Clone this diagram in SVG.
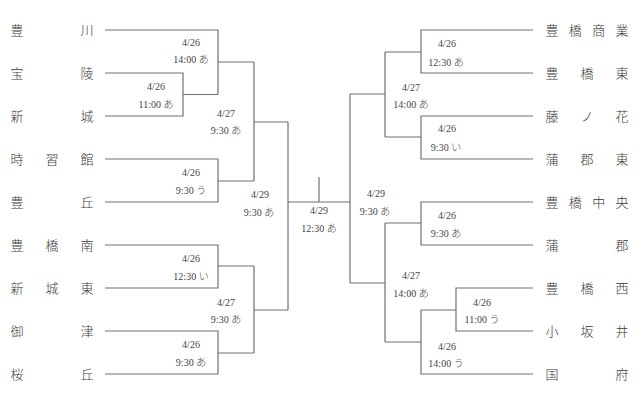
<svg xmlns="http://www.w3.org/2000/svg" width="640" height="410" viewBox="0 0 640 410">
<style>
.team{font-family:"Liberation Serif","Noto Sans CJK JP",serif;font-size:13px;font-weight:300;fill:#3a3a3a;text-anchor:middle}
.lbl{font-family:"Liberation Serif","Noto Sans CJK JP",serif;font-size:10px;font-weight:300;fill:#444;text-anchor:middle}
.con path{fill:none;stroke:#707070;stroke-width:1.2}
</style>
<rect width="640" height="410" fill="#fff"/>
<g class="con" id="connectors">
<path d="M105,73 H183 V116 H105 M183,94.5 H218"/>
<path d="M105,30 H218 V94.5 M218,62 H254"/>
<path d="M105,159 H218 V202 H105 M218,181 H254"/>
<path d="M254,62 V181 M254,122 H288"/>
<path d="M105,245 H218 V288 H105 M218,266 H254"/>
<path d="M105,331 H218 V374 H105 M218,353 H254"/>
<path d="M254,266 V353 M254,310 H288"/>
<path d="M288,122 V310"/>
<path d="M288,202 H350 M319,177 V202"/>
<path d="M533,30 H421 V73 H533 M421,52 H385"/>
<path d="M533,116 H421 V159 H533 M421,137 H385"/>
<path d="M385,52 V137 M385,94 H350"/>
<path d="M533,202 H421 V245 H533 M421,223 H385"/>
<path d="M533,288 H456 V331 H533 M456,310 H421"/>
<path d="M533,374 H421 V310 M421,342 H385"/>
<path d="M385,223 V342 M385,283 H350"/>
<path d="M350,94 V283"/>
</g>
<g id="team-toyokawa"><text class="team" x="17 87" y="35">豊川</text></g>
<g id="team-horyo"><text class="team" x="17 87" y="78">宝陵</text></g>
<g id="team-shinshiro"><text class="team" x="17 87" y="121">新城</text></g>
<g id="team-jishukan"><text class="team" x="17 52 87" y="164">時習館</text></g>
<g id="team-toyooka"><text class="team" x="17 87" y="207">豊丘</text></g>
<g id="team-toyohashiminami"><text class="team" x="17 52 87" y="250">豊橋南</text></g>
<g id="team-shinshirohigashi"><text class="team" x="17 52 87" y="293">新城東</text></g>
<g id="team-mito"><text class="team" x="17 87" y="336">御津</text></g>
<g id="team-sakuragaoka"><text class="team" x="17 87" y="379">桜丘</text></g>
<g id="team-toyohashishogyo"><text class="team" x="552 575.3 598.7 622" y="35">豊橋商業</text></g>
<g id="team-toyohashihigashi"><text class="team" x="552 587 622" y="78">豊橋東</text></g>
<g id="team-fujinohana"><text class="team" x="552 587 622" y="121">藤ノ花</text></g>
<g id="team-gamagorihigashi"><text class="team" x="552 587 622" y="164">蒲郡東</text></g>
<g id="team-toyohashichuo"><text class="team" x="552 575.3 598.7 622" y="207">豊橋中央</text></g>
<g id="team-gamagori"><text class="team" x="552 622" y="250">蒲郡</text></g>
<g id="team-toyohashinishi"><text class="team" x="552 587 622" y="293">豊橋西</text></g>
<g id="team-kozakai"><text class="team" x="552 587 622" y="336">小坂井</text></g>
<g id="team-kou"><text class="team" x="552 622" y="379">国府</text></g>
<g id="m-l1"><text class="lbl" x="191" y="46">4/26</text><text class="lbl" x="191" y="63">14:00 あ</text></g>
<g id="m-l2"><text class="lbl" x="156" y="90">4/26</text><text class="lbl" x="156" y="108">11:00 あ</text></g>
<g id="m-l3"><text class="lbl" x="226" y="117">4/27</text><text class="lbl" x="226" y="134">9:30 あ</text></g>
<g id="m-l4"><text class="lbl" x="191" y="176">4/26</text><text class="lbl" x="191" y="194">9:30 う</text></g>
<g id="m-l5"><text class="lbl" x="260" y="198">4/29</text><text class="lbl" x="259" y="216">9:30 あ</text></g>
<g id="m-l6"><text class="lbl" x="191" y="262">4/26</text><text class="lbl" x="191" y="280">12:30 い</text></g>
<g id="m-l7"><text class="lbl" x="226" y="306">4/27</text><text class="lbl" x="226" y="323">9:30 あ</text></g>
<g id="m-l8"><text class="lbl" x="191" y="348">4/26</text><text class="lbl" x="191" y="366">9:30 あ</text></g>
<g id="m-final"><text class="lbl" x="319" y="214">4/29</text><text class="lbl" x="319" y="232">12:30 あ</text></g>
<g id="m-r1"><text class="lbl" x="447" y="47">4/26</text><text class="lbl" x="446" y="66">12:30 あ</text></g>
<g id="m-r2"><text class="lbl" x="411" y="91">4/27</text><text class="lbl" x="411" y="108">14:00 あ</text></g>
<g id="m-r3"><text class="lbl" x="447" y="132">4/26</text><text class="lbl" x="446" y="151">9:30 い</text></g>
<g id="m-r4"><text class="lbl" x="376" y="197">4/29</text><text class="lbl" x="375" y="215">9:30 あ</text></g>
<g id="m-r5"><text class="lbl" x="447" y="219">4/26</text><text class="lbl" x="446" y="237">9:30 あ</text></g>
<g id="m-r6"><text class="lbl" x="411" y="279">4/27</text><text class="lbl" x="411" y="297">14:00 あ</text></g>
<g id="m-r7"><text class="lbl" x="482" y="306">4/26</text><text class="lbl" x="482" y="323">11:00 う</text></g>
<g id="m-r8"><text class="lbl" x="447" y="350">4/26</text><text class="lbl" x="446" y="367">14:00 う</text></g>
</svg>
